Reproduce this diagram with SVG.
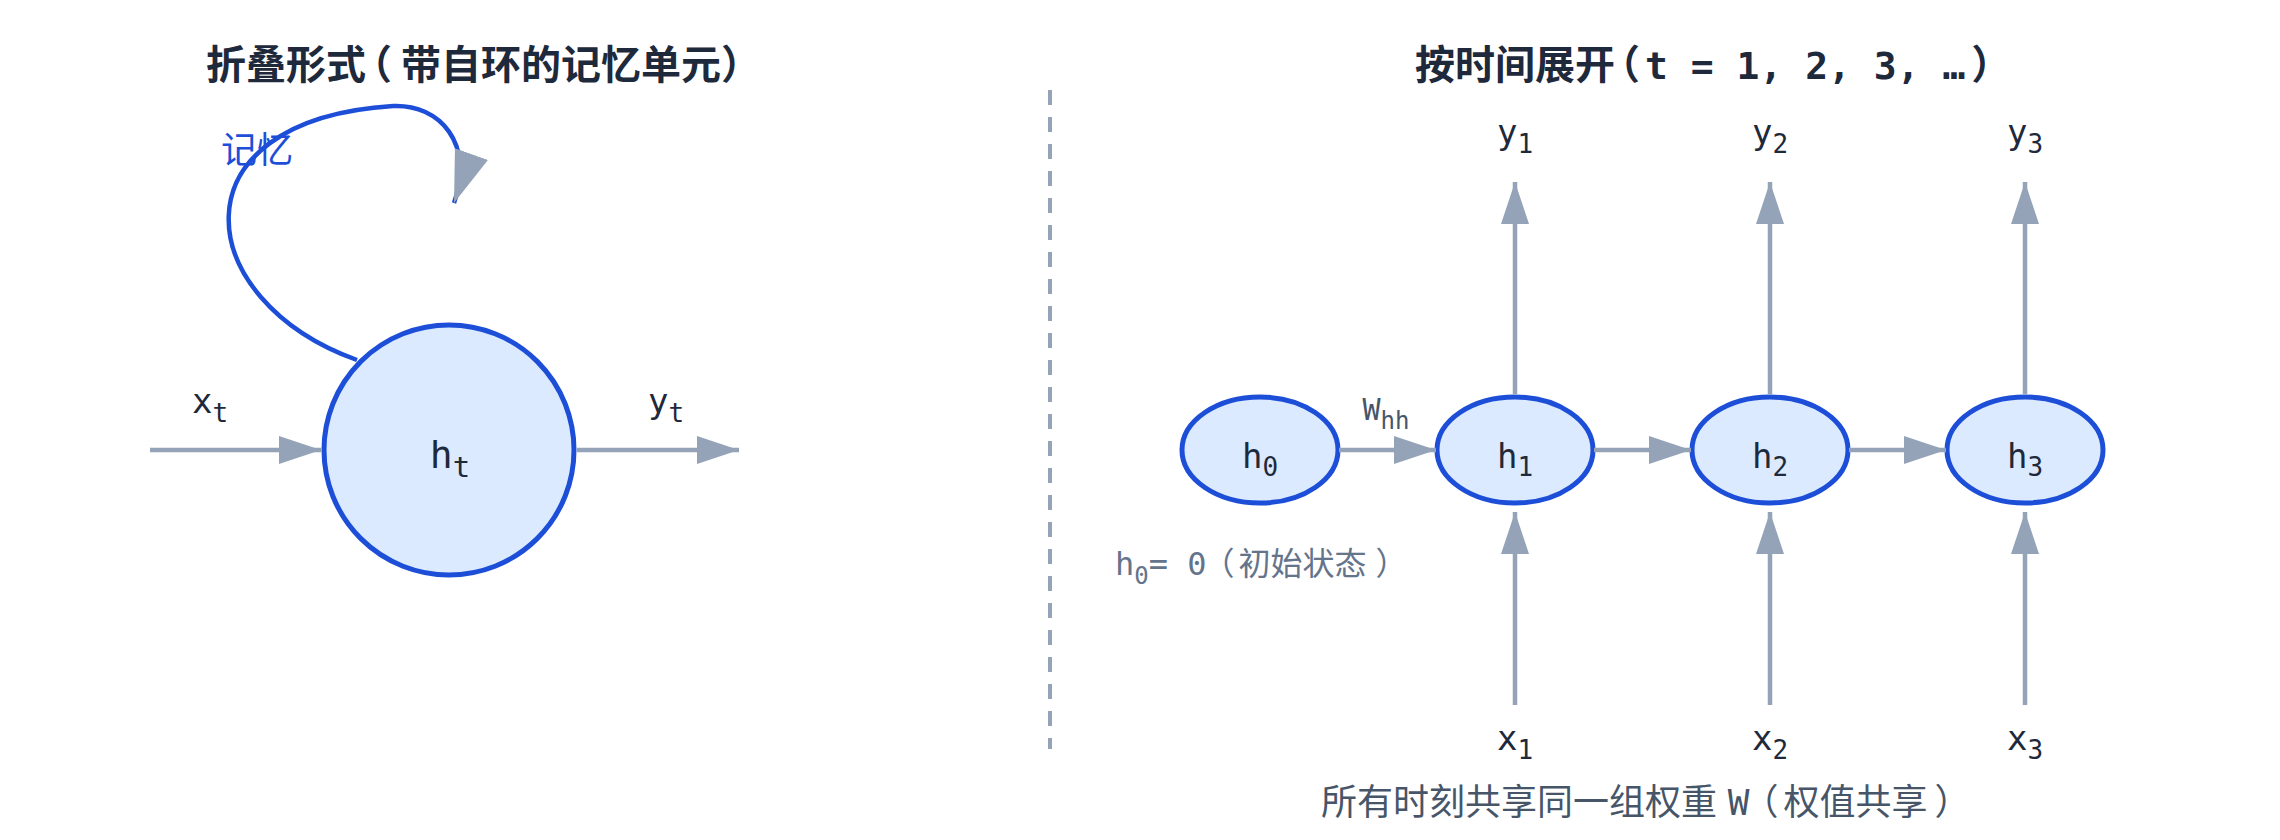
<svg xmlns="http://www.w3.org/2000/svg" width="2280" height="840" viewBox="0 0 2280 840">
<defs>
<style>
text{font-family:'DejaVu Sans Mono','Noto Sans CJK SC',monospace;}
.title{font-size:40px;font-weight:bold;fill:#1e293b;}
.lbl{font-size:34px;fill:#1e293b;text-anchor:middle;}
.lbl .s{font-size:26px;}
.node{fill:#dbeafe;stroke:#1d4ed8;stroke-width:5;}
.arr{fill:none;stroke:#94a3b8;stroke-width:4.5;marker-end:url(#ah);}
.note{font-size:32px;fill:#64748b;}
.foot{font-size:36px;fill:#475569;}
</style>
<marker id="ah" markerUnits="userSpaceOnUse" markerWidth="42" markerHeight="28" viewBox="0 0 42 28" refX="42" refY="14" orient="auto"><path d="M0,0 L42,14 L0,28 z" fill="#94a3b8"/></marker>
<marker id="ahl" markerUnits="userSpaceOnUse" markerWidth="52" markerHeight="35" viewBox="0 0 52 35" refX="52" refY="17.5" orient="auto"><path d="M0,0 L52,17.5 L0,35 z" fill="#94a3b8"/></marker>
</defs>
<rect width="2280" height="840" fill="#ffffff"/>

<text class="title" x="206" y="79">折叠形<tspan style="letter-spacing:-14px">式</tspan>（<tspan dx="9">带自环的记忆单元</tspan>）</text>
<text class="title" x="1415" y="79">按时间展<tspan style="letter-spacing:-15px">开</tspan>（<tspan dx="5" style="font-size:38px">t = 1, 2, 3, …</tspan><tspan dx="6">）</tspan></text>

<line x1="1050" y1="90" x2="1050" y2="749" stroke="#94a3b8" stroke-width="4" stroke-dasharray="15 12"/>

<g id="node-ht">
<circle class="node" cx="449" cy="450" r="125"/>
<text class="lbl" x="450" y="468" style="font-size:38px">h<tspan dy="9" style="font-size:29px">t</tspan></text>
</g>
<g id="node-h0">
<ellipse class="node" cx="1260" cy="450" rx="78" ry="53"/>
<text class="lbl" x="1260" y="468">h<tspan class="s" dy="8">0</tspan></text>
</g>
<g id="node-h1">
<ellipse class="node" cx="1515" cy="450" rx="78" ry="53"/>
<text class="lbl" x="1515" y="468">h<tspan class="s" dy="8">1</tspan></text>
</g>
<g id="node-h2">
<ellipse class="node" cx="1770" cy="450" rx="78" ry="53"/>
<text class="lbl" x="1770" y="468">h<tspan class="s" dy="8">2</tspan></text>
</g>
<g id="node-h3">
<ellipse class="node" cx="2025" cy="450" rx="78" ry="53"/>
<text class="lbl" x="2025" y="468">h<tspan class="s" dy="8">3</tspan></text>
</g>

<g id="connectors">
<path d="M357,360 C190,300 170,120 393,106 C440,104 475,144 454,203" fill="none" stroke="#1d4ed8" stroke-width="4.5" marker-end="url(#ahl)"/>
<path class="arr" d="M150,450 H321"/>
<path class="arr" d="M577,450 H739"/>
<path class="arr" d="M1339,450 H1436"/>
<path class="arr" d="M1594,450 H1691"/>
<path class="arr" d="M1849,450 H1946"/>
<path class="arr" d="M1515,394 V182"/>
<path class="arr" d="M1770,394 V182"/>
<path class="arr" d="M2025,394 V182"/>
<path class="arr" d="M1515,705 V512"/>
<path class="arr" d="M1770,705 V512"/>
<path class="arr" d="M2025,705 V512"/>
</g>

<g id="labels">
<text x="221" y="163" style="font-size:36px;fill:#1d4ed8">记忆</text>
<text class="lbl" x="210" y="413">x<tspan class="s" dy="9">t</tspan></text>
<text class="lbl" x="666" y="413">y<tspan class="s" dy="9">t</tspan></text>
<text class="lbl" x="1386" y="420" style="font-size:30px;fill:#475569">W<tspan dy="9" style="font-size:24px">hh</tspan></text>
<text class="lbl" x="1515" y="144">y<tspan class="s" dy="9">1</tspan></text>
<text class="lbl" x="1770" y="144">y<tspan class="s" dy="9">2</tspan></text>
<text class="lbl" x="2025" y="144">y<tspan class="s" dy="9">3</tspan></text>
<text class="lbl" x="1515" y="750">x<tspan class="s" dy="9">1</tspan></text>
<text class="lbl" x="1770" y="750">x<tspan class="s" dy="9">2</tspan></text>
<text class="lbl" x="2025" y="750">x<tspan class="s" dy="9">3</tspan></text>
<text class="note" x="1115" y="575">h<tspan dy="9" style="font-size:24px">0</tspan><tspan dy="-9">= </tspan><tspan style="letter-spacing:-4px">0</tspan>（<tspan dx="4">初始状态</tspan><tspan dx="9">）</tspan></text>
<text class="foot" x="1321" y="815">所有时刻共享同一组权重<tspan style="letter-spacing:-11px"> </tspan><tspan style="letter-spacing:-7px">W</tspan>（<tspan dx="5">权值共享</tspan><tspan dx="7">）</tspan></text>
</g>
</svg>
